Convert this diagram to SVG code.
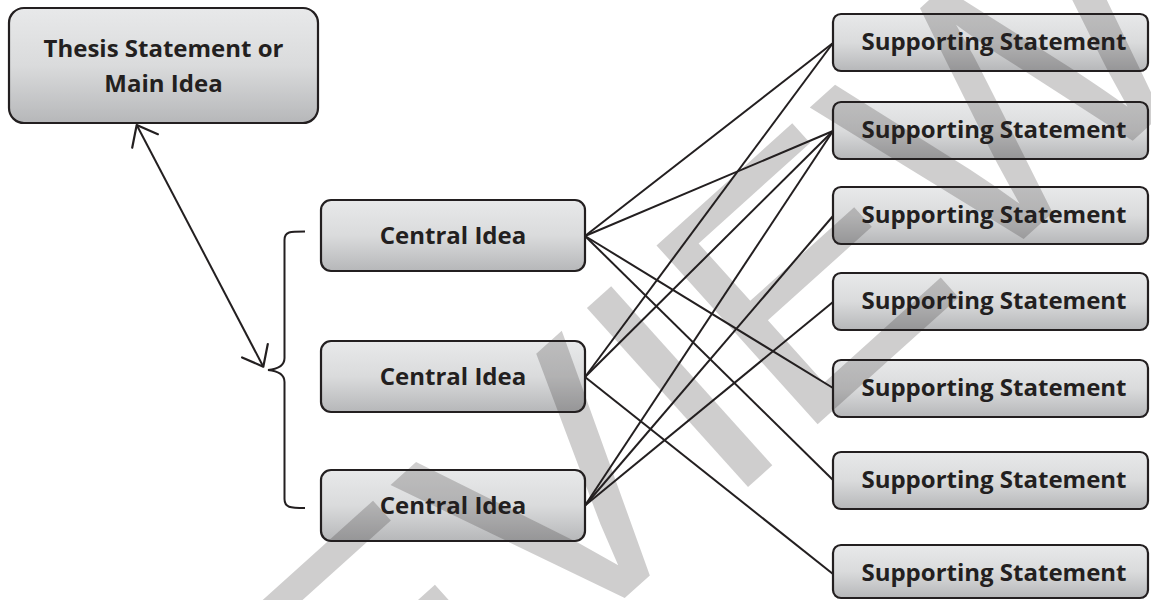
<svg xmlns="http://www.w3.org/2000/svg" width="1151" height="600" viewBox="0 0 1151 600">
<defs>
<linearGradient id="boxFill" x1="0" y1="0" x2="0" y2="1">
<stop offset="0" stop-color="#e8e9ea"/>
<stop offset="0.5" stop-color="#dadbdc"/>
<stop offset="1" stop-color="#b6b7b9"/>
</linearGradient>
<marker id="arrowHead" markerUnits="userSpaceOnUse" markerWidth="40" markerHeight="40" refX="0" refY="0" viewBox="-20 -20 40 40" orient="auto-start-reverse" overflow="visible">
<path d="M-18,-14.5 L0,0 L-18,14.5" fill="none" stroke="#231f20" stroke-width="2.2" stroke-linecap="round" stroke-linejoin="round"/>
</marker>
<style>
.box{fill:url(#boxFill);stroke:#231f20;stroke-width:2.2}
.lbl{font-family:"Open Sans","Liberation Sans",sans-serif;font-weight:700;font-size:24px;fill:#231f20;text-anchor:middle}
.conn{stroke:#231f20;stroke-width:2;fill:none}
.wm{font-family:"Liberation Sans",sans-serif;font-size:350px;fill:#231f20;fill-opacity:0.22}
</style>
</defs>

<g id="connectors">
<line class="conn" x1="585" y1="236" x2="833" y2="43"/>
<line class="conn" x1="585" y1="236" x2="833" y2="131"/>
<line class="conn" x1="585" y1="236" x2="833" y2="388"/>
<line class="conn" x1="585" y1="236" x2="833" y2="480"/>
<line class="conn" x1="585" y1="377" x2="833" y2="43"/>
<line class="conn" x1="585" y1="377" x2="833" y2="131"/>
<line class="conn" x1="585" y1="377" x2="833" y2="574"/>
<line class="conn" x1="585" y1="505.5" x2="833" y2="131"/>
<line class="conn" x1="585" y1="505.5" x2="833" y2="216"/>
<line class="conn" x1="585" y1="505.5" x2="833" y2="302"/>
<line class="conn" x1="136.7" y1="125" x2="263.3" y2="366.7" marker-start="url(#arrowHead)" marker-end="url(#arrowHead)"/>
<path class="conn" d="M305,231.5 C290,231.5 284.5,231.5 284.5,240 L284.5,358 C284.5,366 278,369 268,370 C278,371 284.5,374 284.5,382 L284.5,499 C284.5,507.5 290,508 305,508"/>
</g>

<g id="thesis">
<rect class="box" x="9" y="8" width="309" height="115" rx="15"/>
<text class="lbl" x="163.5" y="57">Thesis Statement or</text>
<text class="lbl" x="163.5" y="92">Main Idea</text>
</g>

<g id="central1">
<rect class="box" x="321" y="200" width="264" height="71" rx="10"/>
<text class="lbl" x="453" y="244">Central Idea</text>
</g>
<g id="central2">
<rect class="box" x="321" y="341" width="264" height="71" rx="10"/>
<text class="lbl" x="453" y="385">Central Idea</text>
</g>
<g id="central3">
<rect class="box" x="321" y="470" width="264" height="71" rx="10"/>
<text class="lbl" x="453" y="514">Central Idea</text>
</g>

<g id="support1">
<rect class="box" x="833" y="14" width="315" height="57" rx="8"/>
<text class="lbl" x="994" y="50">Supporting Statement</text>
</g>
<g id="support2">
<rect class="box" x="833" y="102" width="315" height="57" rx="8"/>
<text class="lbl" x="994" y="138">Supporting Statement</text>
</g>
<g id="support3">
<rect class="box" x="833" y="187" width="315" height="57" rx="8"/>
<text class="lbl" x="994" y="223">Supporting Statement</text>
</g>
<g id="support4">
<rect class="box" x="833" y="273" width="315" height="57" rx="8"/>
<text class="lbl" x="994" y="309">Supporting Statement</text>
</g>
<g id="support5">
<rect class="box" x="833" y="360" width="315" height="57" rx="8"/>
<text class="lbl" x="994" y="396">Supporting Statement</text>
</g>
<g id="support6">
<rect class="box" x="833" y="452" width="315" height="57" rx="8"/>
<text class="lbl" x="994" y="488">Supporting Statement</text>
</g>
<g id="support7">
<rect class="box" x="833" y="545" width="315" height="53" rx="8"/>
<text class="lbl" x="994" y="581">Supporting Statement</text>
</g>

<g id="watermark">
<text class="wm" transform="translate(637,587) rotate(-42)" x="-836" y="0">PREVIEW</text>
</g>
</svg>
